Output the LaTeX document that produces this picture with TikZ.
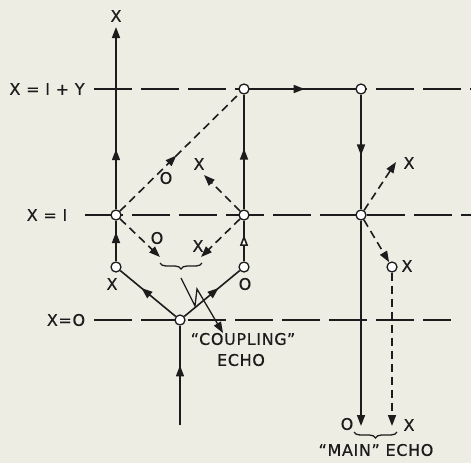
\documentclass[tikz,border=0pt]{standalone}
\usepackage{fontspec}
\setmainfont{DejaVu Sans}[LetterSpace=4,FakeBold=0.5]
\usetikzlibrary{arrows.meta,decorations.markings,decorations.pathreplacing}
\definecolor{bg}{RGB}{238,237,228}
\definecolor{ink}{RGB}{28,28,28}
\begin{document}
\begin{tikzpicture}[x=1pt,y=-1pt,
  pt/.style={circle,draw=ink,fill=white,line width=1.3pt,inner sep=0pt,minimum size=10pt},
  sol/.style={draw=ink,line width=1.6pt},
  dsh/.style={draw=ink,line width=1.6pt,dash pattern=on 8pt off 5pt},
  axis/.style={draw=ink,line width=1.3pt,dash pattern=on 38pt off 9pt},
  tip/.style={-{Triangle[length=11pt,width=8pt]}},
  midarrow/.style={postaction={decorate},decoration={markings,mark=at position #1 with {\arrow{Triangle[length=11pt,width=8pt]}}}},
  midopen/.style={postaction={decorate},decoration={markings,mark=at position #1 with {\arrow{Triangle[open,length=11pt,width=8pt,fill=white]}}}},
  lbl/.style={inner sep=0pt,font=\fontsize{16}{19}\selectfont,text=ink}
]
\fill[bg] (0,0) rectangle (471,463);
\useasboundingbox (0,0) rectangle (471,463);

% level lines
\coordinate (a1s) at (94,89);  \coordinate (a1e) at (471,89);
\coordinate (a2s) at (85,215); \coordinate (a2e) at (471,215);
\coordinate (a3s) at (94,320); \coordinate (a3e) at (451,320);
\draw[axis] (a1s) -- (a1e);
\draw[axis] (a2s) -- (a2e);
\draw[axis] (a3s) -- (a3e);

% level labels
\node[lbl] (t1) at (47,89) {X = I + Y};
\node[lbl] (t2) at (47,215) {X = I};
\node[lbl] (t3) at (66,320) {X=O};

% points
\node[pt] (A)  at (180,320) {};
\node[pt] (L1) at (116,267) {};
\node[pt] (R1) at (244,267) {};
\node[pt] (L2) at (116,215) {};
\node[pt] (M2) at (244,215) {};
\node[pt] (M3) at (244,89) {};
\node[pt] (R3) at (361,89) {};
\node[pt] (R2) at (361,215) {};
\node[pt] (P)  at (392,267) {};

\coordinate (in)  at (180,425);
\coordinate (top) at (116,27);
\coordinate (bO)  at (361,426);
\coordinate (bX)  at (392,426);
\coordinate (d1)  at (204,175);
\coordinate (d2)  at (160,257);
\coordinate (d3)  at (201,257);
\coordinate (d4)  at (396,162);

% solid paths
\draw[sol,midarrow=0.6] (in) -- (A);
\draw[sol,midarrow=0.62] (A) -- (L1);
\draw[sol,midarrow=0.62] (A) -- (R1);
\draw[sol,midarrow=0.72] (L1) -- (L2);
\draw[sol,tip,midarrow=0.33] (L2) -- (top);
\draw[sol,midopen=0.65] (R1) -- (M2);
\draw[sol,midarrow=0.53] (M2) -- (M3);
\draw[sol,midarrow=0.52] (M3) -- (R3);
\draw[sol,midarrow=0.53] (R3) -- (R2);
\draw[sol,tip] (R2) -- (bO);

% dashed paths
\draw[dsh,midarrow=0.47] (L2) -- (M3);
\draw[dsh,tip] (M2) -- (d1);
\draw[dsh,tip] (L2) -- (d2);
\draw[dsh,tip] (M2) -- (d3);
\draw[dsh,tip] (R2) -- (d4);
\draw[dsh,tip] (R2) -- (P);
\draw[dsh,tip] (P) -- (bX);

% braces
\draw[sol,line width=1.3pt,decorate,decoration={brace,mirror,amplitude=6pt}] (160,263) -- (202,263);
\draw[sol,line width=1.3pt,decorate,decoration={brace,mirror,amplitude=6pt}] (354,432) -- (397,432);

% coupling pointer
\coordinate (c0) at (181,278);
\coordinate (c3) at (223,333);
\draw[sol,line width=1.3pt,tip] (c0) -- (195,306) -- (197,289) -- (c3);

% labels
\node[lbl] (x0) at (116,16) {X};
\node[lbl] (xL1) at (112,284) {X};
\node[lbl] (oR1) at (245,284) {O};
\node[lbl] (oA) at (166,178) {O};
\node[lbl] (xB) at (199,164) {X};
\node[lbl] (oC) at (157,238) {O};
\node[lbl] (xC) at (198,246) {X};
\node[lbl] (xD) at (409,163) {X};
\node[lbl] (xP) at (407,266) {X};
\node[lbl] (oE) at (347,424) {O};
\node[lbl] (xE) at (409,425) {X};
\node[lbl] (cp) at (243,339) {“COUPLING”};
\node[lbl] (ce) at (241,360) {ECHO};
\node[lbl] (me) at (376,450) {“MAIN” ECHO};
\end{tikzpicture}
\end{document}
